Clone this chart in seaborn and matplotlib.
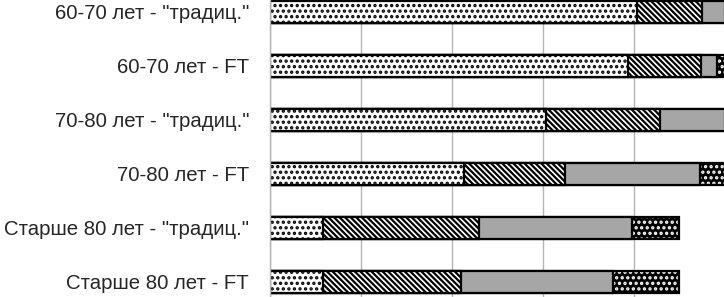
# stacked horizontal bars, black & white hatched style

import numpy as np
import pandas as pd
import matplotlib
matplotlib.use("Agg")
import matplotlib.pyplot as plt
import seaborn as sns

# Data
categories = ['60-70 лет - "традиц."', '60-70 лет - FT',
              '70-80 лет - "традиц."', '70-80 лет - FT',
              'Старше 80 лет - "традиц."', 'Старше 80 лет - FT']
seg1 = [80.7, 78.7, 60.7, 42.6, 11.6, 11.6]
seg2 = [14.2, 16.0, 25.0, 22.2, 34.3, 30.3]
seg3 = [5.1, 3.5, 14.3, 29.7, 33.6, 33.5]
seg4 = [0.0, 1.8, 0.0, 5.5, 10.4, 14.5]

df = pd.DataFrame({"cat": categories, "s1": seg1, "s2": seg2, "s3": seg3, "s4": seg4})
df["c1"] = df["s1"]
df["c2"] = df["c1"] + df["s2"]
df["c3"] = df["c2"] + df["s3"]
df["c4"] = df["c3"] + df["s4"]

sns.set_style("white")
plt.rcParams["font.family"] = ["Liberation Sans", "DejaVu Sans"]
plt.rcParams["hatch.linewidth"] = 1.6

fig = plt.figure(figsize=(7.24, 2.97), dpi=100)
ax = fig.add_axes([270 / 724, 0, 455 / 724, 1])

w = 0.41
lw = 1.6
# draw from the longest cumulative bar down so the shorter ones sit on top
sns.barplot(data=df, x="c4", y="cat", color="black", edgecolor="white",
            hatch="...", linewidth=0, saturation=1, width=w, ax=ax)
sns.barplot(data=df, x="c4", y="cat", color="black", fill=False,
            linewidth=lw, width=w, ax=ax)
sns.barplot(data=df, x="c3", y="cat", color="#a6a6a6", edgecolor="black",
            linewidth=lw, saturation=1, width=w, ax=ax)
sns.barplot(data=df, x="c2", y="cat", color="white", edgecolor="black",
            hatch="\\\\\\\\\\\\", linewidth=lw, saturation=1, width=w, ax=ax)
sns.barplot(data=df, x="c1", y="cat", color="white", edgecolor="black",
            hatch="...", linewidth=lw, saturation=1, width=w, ax=ax)

ax.set_xlim(0, 100)
ax.set_ylim(5.278, -0.222)
ax.set_xticks([0, 20, 40, 60, 80, 100])
ax.xaxis.grid(True, color="#b4b4b4", linewidth=1.0)
ax.set_axisbelow(True)
ax.tick_params(axis="x", labelbottom=False, length=0)
ax.tick_params(axis="y", length=0, pad=15, labelsize=14.7)
ax.set_xlabel("")
ax.set_ylabel("")
for s in ["top", "right", "bottom"]:
    ax.spines[s].set_visible(False)
ax.spines["left"].set_color("#b4b4b4")
ax.spines["left"].set_linewidth(1.0)

plt.savefig("out.png", dpi=100)
